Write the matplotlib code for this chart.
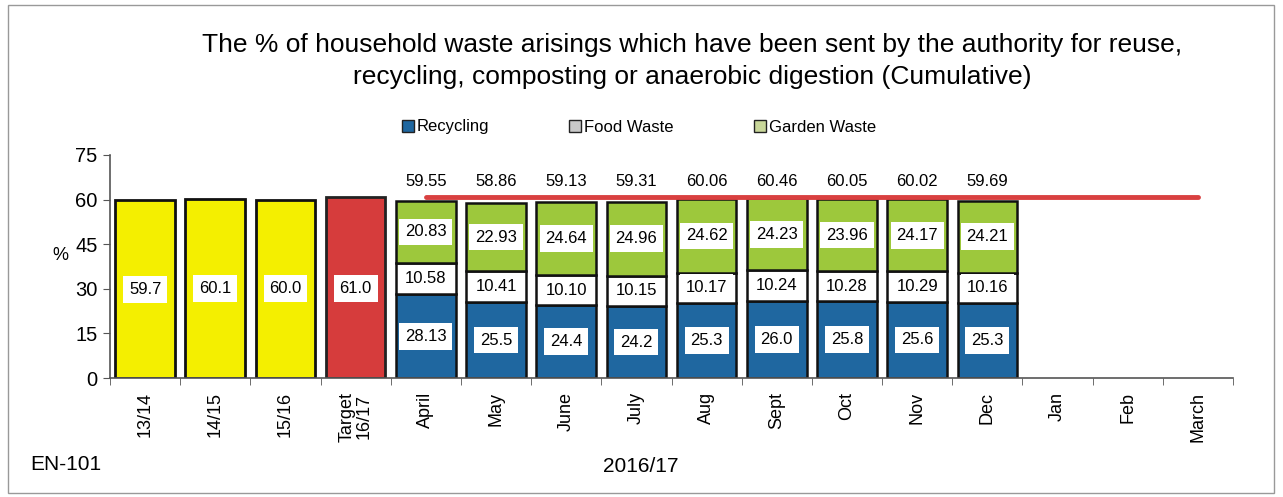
import numpy as np
import matplotlib
matplotlib.use('Agg')
import matplotlib.pyplot as plt
from matplotlib.patches import Patch, Rectangle

plt.rcParams['font.family'] = ['Liberation Sans', 'DejaVu Sans']

categories = ['13/14', '14/15', '15/16', 'Target\n16/17', 'April', 'May', 'June', 'July',
              'Aug', 'Sept', 'Oct', 'Nov', 'Dec', 'Jan', 'Feb', 'March']
past_years = [59.7, 60.1, 60.0]
target = 61.0
recycling = [28.13, 25.5, 24.4, 24.2, 25.3, 26.0, 25.8, 25.6, 25.3]
food_waste = [10.58, 10.41, 10.10, 10.15, 10.17, 10.24, 10.28, 10.29, 10.16]
garden_waste = [20.83, 22.93, 24.64, 24.96, 24.62, 24.23, 23.96, 24.17, 24.21]
totals = [59.55, 58.86, 59.13, 59.31, 60.06, 60.46, 60.05, 60.02, 59.69]

BLUE, GREEN, YELLOW, RED = '#1f67a0', '#9dc83c', '#f4ef00', '#d63c3c'
W = 0.85
box = dict(boxstyle='square,pad=0.35', fc='white', ec='none')

fig = plt.figure(figsize=(12.83, 4.97), dpi=100)
ax = fig.add_axes([110 / 1283, 119 / 497, 1123 / 1283, 223 / 497])

x = np.arange(len(categories))
# past years + target
xp = x[:3]
ax.bar(xp, past_years, W, color=YELLOW, edgecolor='#111111', lw=2, zorder=2)
ax.bar(x[3], target, W, color=RED, edgecolor='#222222', lw=2, zorder=2)
for xi, v in zip(xp, past_years):
    ax.text(xi, v / 2, f'{v:.1f}', ha='center', va='center', fontsize=12, bbox=box, zorder=4)
ax.text(x[3], 30.2, f'{target:.1f}', ha='center', va='center', fontsize=12, bbox=box, zorder=4)

# monthly stacked
xm = x[4:4 + len(recycling)]
rec = np.array(recycling); fw = np.array(food_waste); gw = np.array(garden_waste)
ax.bar(xm, rec, W, color=BLUE, edgecolor='#111111', lw=1.8, zorder=2)
ax.bar(xm, fw, W, bottom=rec, color='white', edgecolor='#111111', lw=1.8, zorder=2)
ax.bar(xm, gw, W, bottom=rec + fw, color=GREEN, edgecolor='#111111', lw=1.8, zorder=2)
for i, xi in enumerate(xm):
    ax.text(xi, rec[i] / 2, str(recycling[i]), ha='center', va='center', fontsize=12, bbox=box, zorder=4)
    ax.text(xi, rec[i] + fw[i] / 2, f'{fw[i]:.2f}', ha='center', va='center', fontsize=12, bbox=box, zorder=4)
    ax.text(xi, rec[i] + fw[i] + gw[i] / 2, f'{gw[i]:.2f}', ha='center', va='center', fontsize=12, bbox=box, zorder=4)
    ax.text(xi, 66, f'{totals[i]:.2f}', ha='center', va='center', fontsize=12)

# target line
ax.plot([x[4], x[-1]], [target, target], color='#d94040', lw=3.5, solid_capstyle='round', zorder=3)

ax.set_xlim(-0.5, len(categories) - 0.5)
ax.set_ylim(0, 75)
ax.set_yticks([0, 15, 30, 45, 60, 75])
ax.set_xticks(x)
ax.set_xticklabels(categories, rotation=90, fontsize=13, linespacing=0.95)
ax.set_xticks(np.arange(-0.5, len(categories)), minor=True)
ax.tick_params(axis='x', which='major', length=0, pad=10)
ax.tick_params(axis='x', which='minor', length=5, color='#555555')
ax.tick_params(axis='y', labelsize=14.5, length=5, color='#555555', pad=4)
for s in ['top', 'right']:
    ax.spines[s].set_visible(False)
for s in ['left', 'bottom']:
    ax.spines[s].set_color('#555555')
    ax.spines[s].set_linewidth(1.2)

fig.text(60 / 1283, 1 - 255 / 497, '%', fontsize=13, ha='center', va='center')
fig.text(692 / 1283, 1 - 61 / 497,
         'The % of household waste arisings which have been sent by the authority for reuse,\n'
         'recycling, composting or anaerobic digestion (Cumulative)',
         ha='center', va='center', fontsize=19, linespacing=1.4)

handles = [Patch(fc=BLUE, ec='#222222'), Patch(fc='#c8c8c8', ec='#222222'), Patch(fc='#c9d79a', ec='#222222')]
fig.legend(handles, ['Recycling', 'Food Waste', 'Garden Waste'], loc='center',
           bbox_to_anchor=(639 / 1283, 1 - 127 / 497), ncol=3, frameon=False, fontsize=12,
           handlelength=0.7, handleheight=0.7, handletextpad=0.2, columnspacing=4.8)

fig.text(30 / 1283, 1 - 465 / 497, 'EN-101', fontsize=15, va='center')
fig.text(641 / 1283, 1 - 466 / 497, '2016/17', fontsize=15, ha='center', va='center')
fig.patches.append(Rectangle((8 / 1283, 4 / 497), 1266 / 1283, 488 / 497, transform=fig.transFigure,
                             fill=False, ec='#999999', lw=1))

fig.savefig('out.png', dpi=100)
